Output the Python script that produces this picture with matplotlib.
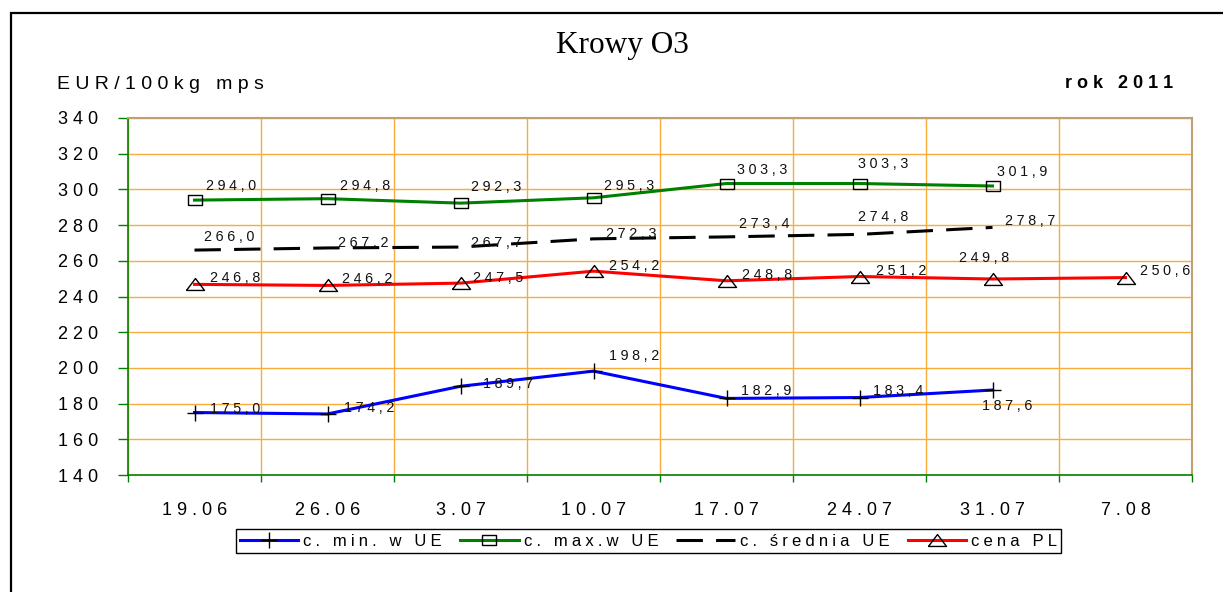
import matplotlib
matplotlib.use('Agg')
import matplotlib.pyplot as plt
from matplotlib.patches import Rectangle
import numpy as np

# ---------------- data ----------------
categories = ['19.06', '26.06', '3.07', '10.07', '17.07', '24.07', '31.07', '7.08']
min_ue = [175.0, 174.2, 189.7, 198.2, 182.9, 183.4, 187.6]
max_ue = [294.0, 294.8, 292.3, 295.3, 303.3, 303.3, 301.9]
avg_ue = [266.0, 267.2, 267.7, 272.3, 273.4, 274.8, 278.7]
cena_pl = [246.8, 246.2, 247.5, 254.2, 248.8, 251.2, 249.8, 250.6]
y_ticks = [140, 160, 180, 200, 220, 240, 260, 280, 300, 320, 340]
series_names = ['c. min. w UE', 'c. max.w UE', 'c. średnia UE', 'cena PL']
title = 'Krowy O3'
unit_label = 'EUR/100kg mps'
year_label = 'rok 2011'

# label offsets in pixels (dx, dy) -- layout only
off_min = [(15, 0), (16, 2), (22, -2), (15, 11), (14, 3), (13, 3), (-11, -20)]
off_max = [(12, 10), (12, 9), (10, 12), (10, 8), (10, 10), (-2, 16), (4, 10)]
off_avg = [(10, 9), (11, 1), (10, 0), (12, 1), (12, 9), (-2, 13), (12, 2)]
off_pl = [(16, 2), (15, 2), (12, 1), (15, 1), (15, 2), (16, 2), (-34, 17), (14, 3)]

SANS = ['Liberation Sans', 'DejaVu Sans']
plt.rcParams['font.family'] = SANS
plt.rcParams['lines.scale_dashes'] = False


def sp(s, gap=' '):
    return gap.join(list(s))


W, H = 1223, 592
fig = plt.figure(figsize=(W / 100, H / 100), dpi=100)
ax = fig.add_axes([128 / W, (H - 475) / H, (1192 - 128) / W, (475 - 118) / H])

GRID = '#F9AC3C'
GREEN = '#008000'
AX_FS = 13

x8 = np.arange(len(categories))

sq = [(-1.4, -1), (1.4, -1), (1.4, 1), (-1.4, 1), (-1.4, -1)]
tri = [(-1, -0.66), (1, -0.66), (0, 0.66), (-1, -0.66)]

l_min, = ax.plot(x8[:len(min_ue)], min_ue, color='#0000FF', lw=2.2, marker='+',
                 ms=12, mec='black', mew=1.0, zorder=5, solid_joinstyle='round')
l_max, = ax.plot(x8[:len(max_ue)], max_ue, color=GREEN, lw=2.2, marker=sq,
                 ms=10, mec='black', mfc='none', mew=1.0, zorder=5)
l_avg, = ax.plot(x8[:len(avg_ue)], avg_ue, color='black', lw=2.2,
                 dashes=(19, 9.5), zorder=5)
l_pl, = ax.plot(x8[:len(cena_pl)], cena_pl, color='#FF0000', lw=2.2, marker=tri,
                ms=13, mec='black', mfc='none', mew=1.0, zorder=5)

for vals, offs in [(min_ue, off_min), (max_ue, off_max), (avg_ue, off_avg), (cena_pl, off_pl)]:
    for i, (v, o) in enumerate(zip(vals, offs)):
        ax.annotate(sp(f'{v:.1f}'.replace('.', ','), '\u2005'), (x8[i], v), xytext=o,
                    textcoords='offset pixels', ha='left', va='baseline',
                    fontsize=10.3, color='#111111', zorder=6)

ax.set_xlim(-0.5, len(categories) - 0.5)
ax.set_ylim(y_ticks[0], y_ticks[-1])

ax.set_yticks(y_ticks)
ax.set_yticklabels([sp(str(t)) for t in y_ticks])
ax.set_xticks(np.arange(-0.5, len(categories), 1))
ax.set_xticklabels([])
ax.set_xticks(x8, minor=True)
ax.set_xticklabels([sp(c) for c in categories], minor=True)

ax.tick_params(axis='y', which='major', length=7.2, width=1, color=GREEN,
               direction='out', pad=14, labelsize=AX_FS)
ax.tick_params(axis='x', which='major', length=5, width=1, color=GREEN,
               direction='out')
ax.tick_params(axis='x', which='minor', length=0, pad=19.5, labelsize=AX_FS)

ax.grid(True, which='major', color=GRID, lw=1.0, zorder=0)
ax.set_axisbelow(True)
for s in ['left', 'bottom']:
    ax.spines[s].set_color(GREEN)
    ax.spines[s].set_linewidth(1.2)
for s in ['top', 'right']:
    ax.spines[s].set_color('#BFA070')
    ax.spines[s].set_linewidth(1.5)

fig.text(622 / W, 1 - 53 / H, title, family=['Liberation Serif', 'DejaVu Serif'],
         fontsize=22.5, ha='center', va='baseline')
fig.text(57 / W, 1 - 89 / H, sp(unit_label), fontsize=14, ha='left', va='baseline')
fig.text(1173 / W, 1 - 88 / H, sp(year_label), fontsize=AX_FS, fontweight='bold',
         ha='right', va='baseline')

leg = fig.legend([l_min, l_max, l_avg, l_pl], [sp(n, '\u2005') for n in series_names],
                 loc='center', bbox_to_anchor=(648.5 / W, 1 - 541 / H), ncol=4,
                 frameon=True, fancybox=False, edgecolor='black', framealpha=1,
                 fontsize=12, handlelength=3.5, handletextpad=0.3,
                 columnspacing=1.1, borderpad=0.25, numpoints=1, borderaxespad=0)
leg.get_frame().set_linewidth(1.0)

fig.add_artist(Rectangle((11 / W, -0.5), 2, (1 - 13 / H) + 0.5, transform=fig.transFigure,
                         fill=False, lw=1.6, ec='black'))

fig.savefig('out.png', dpi=100)
